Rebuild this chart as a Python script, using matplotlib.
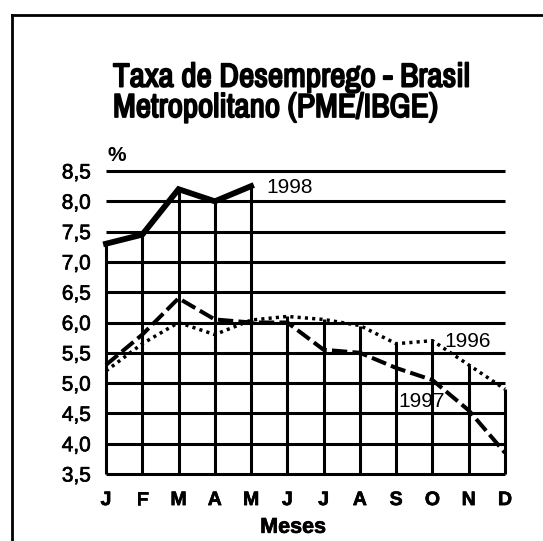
import numpy as np
import matplotlib
matplotlib.use("Agg")
from matplotlib import pyplot as plt
from matplotlib import font_manager
from matplotlib import patheffects as pe
from matplotlib.lines import Line2D

meses = ['J', 'F', 'M', 'A', 'M', 'J', 'J', 'A', 'S', 'O', 'N', 'D']
taxa_1996 = [5.2, 5.65, 6.0, 5.8, 6.04, 6.1, 6.05, 5.95, 5.65, 5.7, 5.3, 4.9]
taxa_1997 = [5.3, 5.8, 6.4, 6.05, 6.0, 6.0, 5.55, 5.5, 5.25, 5.05, 4.55, 3.85]
taxa_1998 = [7.3, 7.45, 8.2, 8.0, 8.25]
niveis = [3.5, 4.0, 4.5, 5.0, 5.5, 6.0, 6.5, 7.0, 7.5, 8.0, 8.5]
niveis_txt = ['3,5', '4,0', '4,5', '5,0', '5,5', '6,0', '6,5', '7,0', '7,5', '8,0', '8,5']

plt.rcParams['font.family'] = ['Liberation Sans', 'DejaVu Sans']

# fonte estreita para o titulo, se houver alguma instalada
nomes = sorted({f.name for f in font_manager.fontManager.ttflist})
fonte_titulo = 'Liberation Sans'
if 'Liberation Sans Narrow' in nomes:
    fonte_titulo = 'Liberation Sans Narrow'
else:
    for n in nomes:
        if 'Condensed' in n or 'Narrow' in n:
            fonte_titulo = n
            break

grosso = [pe.withStroke(linewidth=0.5, foreground='black')]

fig = plt.figure(figsize=(5.43, 5.41), dpi=100)
ax = fig.add_axes([106 / 543, 1 - 474 / 541, 399 / 543, 303 / 541])

x = np.arange(len(meses))
x98 = np.arange(len(taxa_1998))

# grade: horizontais em toda a largura, verticais ate a curva mais alta
ax.hlines(niveis, 0, len(meses) - 1, color='black', lw=2.2, zorder=1)
topo = np.maximum(taxa_1996, taxa_1997)
topo[:len(taxa_1998)] = np.maximum(topo[:len(taxa_1998)], taxa_1998)
ax.vlines(x, niveis[0], topo, color='black', lw=2.2, zorder=1)

ax.plot(x, taxa_1996, color='black', lw=2.5, linestyle=(0, (0.9, 1.2)), zorder=3)
ax.plot(x, taxa_1997, color='black', lw=2.9, linestyle=(0, (3.8, 1.3)), zorder=3)
ax.plot(x98, taxa_1998, color='black', lw=4.2, solid_joinstyle='miter', zorder=4)

ax.text(4.42, 8.22, '1998', fontsize=15, ha='left', va='center')
ax.text(9.33, 5.68, '1996', fontsize=15, ha='left', va='center')
ax.text(8.05, 4.70, '1997', fontsize=15, ha='left', va='center')
ax.text(0.05, 8.67, '%', fontsize=15, fontweight='bold', ha='left', va='baseline')

ax.set_xlim(0, len(meses) - 1)
ax.set_ylim(niveis[0], niveis[-1])
ax.set_xticks(x)
ax.set_xticklabels(meses, fontsize=14, fontweight='bold')
ax.set_yticks(niveis)
ax.set_yticklabels(niveis_txt, fontsize=15)
for t in ax.get_xticklabels() + ax.get_yticklabels():
    t.set_path_effects(grosso)
ax.tick_params(length=0)
ax.tick_params(axis='x', pad=13)
ax.tick_params(axis='y', pad=11)
ax.text(0.469, -0.176, 'Meses', fontsize=15.5, fontweight='bold',
        ha='center', va='center', transform=ax.transAxes, path_effects=grosso)
for s in ax.spines.values():
    s.set_visible(False)
for a in ax.lines + ax.collections:
    a.set_clip_on(False)

# titulo
t1 = fig.text(113 / 543, 1 - 86.6 / 541, 'Taxa de Desemprego - Brasil', fontsize=24,
              fontweight='bold', family=fonte_titulo, ha='left', va='baseline')
t2 = fig.text(113 / 543, 1 - 117 / 541, 'Metropolitano (PME/IBGE)', fontsize=24,
              fontweight='bold', family=fonte_titulo, ha='left', va='baseline')
r = fig.canvas.get_renderer()
larg = t1.get_window_extent(r).width
tam = 24 * 357 / larg
for t in (t1, t2):
    t.set_fontsize(tam)
    t.set_path_effects([pe.withStroke(linewidth=1.3, foreground='black')])

# moldura
fig.add_artist(Line2D([12 / 543, 12 / 543], [0, 1 - 15 / 541], color='black', lw=2, transform=fig.transFigure))
fig.add_artist(Line2D([12 / 543, 1], [1 - 15 / 541, 1 - 15 / 541], color='black', lw=2, transform=fig.transFigure))

fig.savefig('out.png', dpi=100)
